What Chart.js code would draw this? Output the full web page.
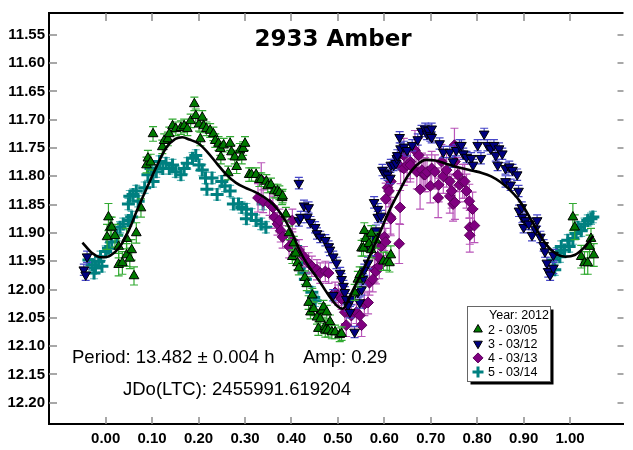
<!DOCTYPE html>
<html>
<head>
<meta charset="utf-8">
<title>2933 Amber</title>
<script src="https://cdn.jsdelivr.net/npm/chart.js@4"></script>
<style>
  html, body { margin: 0; padding: 0; background: #fff; }
</style>
</head>
<body>
<canvas id="lcChart" width="633" height="450"></canvas>
<script>
// axis ticks
var phaseTicks = [0.0, 0.1, 0.2, 0.3, 0.4, 0.5, 0.6, 0.7, 0.8, 0.9, 1.0];
var magTicks = [11.55, 11.60, 11.65, 11.70, 11.75, 11.80, 11.85, 11.90, 11.95, 12.00, 12.05, 12.10, 12.15, 12.20];

// session 2 - 03/05
var s2Phase = [0.003, 0.006, 0.010, 0.013, 0.020, 0.028, 0.028, 0.036, 0.045, 0.045,
  0.052, 0.056, 0.061, 0.066, 0.076, 0.088, 0.091, 0.097, 0.102, 0.122,
  0.126, 0.134, 0.137, 0.144, 0.151, 0.162, 0.169, 0.176, 0.183, 0.191,
  0.194, 0.201, 0.204, 0.208, 0.211, 0.217, 0.225, 0.232, 0.236, 0.243,
  0.247, 0.248, 0.254, 0.264, 0.268, 0.271, 0.278, 0.282, 0.289, 0.293,
  0.296, 0.300, 0.309, 0.314, 0.324, 0.331, 0.335, 0.346, 0.349, 0.356,
  0.363, 0.370, 0.374, 0.380, 0.381, 0.388, 0.395, 0.402, 0.405, 0.409,
  0.413, 0.416, 0.429, 0.433, 0.437, 0.441, 0.445, 0.448, 0.455, 0.458,
  0.462, 0.466, 0.469, 0.472, 0.473, 0.476, 0.479, 0.483, 0.487, 0.494,
  0.504, 0.508, 0.536, 0.543, 0.547, 0.551, 0.555, 0.557, 0.560, 0.567,
  0.572, 0.572, 0.582, 0.598, 0.606, 0.611, 0.614, 1.006, 1.010, 1.024,
  1.031, 1.038, 1.042, 1.045, 1.051];
var s2Mag = [11.907, 11.872, 11.890, 11.890, 11.905, 11.924, 11.956, 11.953, 11.910, 11.939,
  11.945, 11.930, 11.976, 11.900, 11.856, 11.780, 11.768, 11.775, 11.725, 11.748,
  11.737, 11.734, 11.725, 11.711, 11.716, 11.714, 11.711, 11.716, 11.702, 11.672,
  11.693, 11.708, 11.734, 11.696, 11.711, 11.716, 11.719, 11.725, 11.737, 11.742,
  11.751, 11.766, 11.745, 11.794, 11.742, 11.757, 11.766, 11.783, 11.754, 11.766,
  11.751, 11.742, 11.797, 11.797, 11.797, 11.806, 11.806, 11.809, 11.817, 11.815,
  11.826, 11.826, 11.829, 11.838, 11.835, 11.867, 11.900, 11.942, 11.918, 11.936,
  11.953, 11.962, 11.979, 11.990, 12.023, 12.040, 12.010, 12.034, 12.049, 12.069,
  12.052, 12.037, 12.031, 12.066, 12.072, 12.040, 12.072, 12.057, 12.075, 12.075,
  12.080, 12.078, 12.005, 11.982, 11.974, 11.927, 11.927, 11.896, 11.910, 11.919,
  11.930, 11.901, 11.913, 11.950, 11.950, 11.953, 11.939, 11.872, 11.890, 11.942,
  11.953, 11.953, 11.924, 11.910, 11.939];
var s2Err = [0.022, 0.024, 0.018, 0.018, 0.020, 0.020, 0.020, 0.020, 0.018, 0.020,
  0.018, 0.018, 0.016, 0.018, 0.016, 0.014, 0.014, 0.014, 0.013, 0.012,
  0.012, 0.012, 0.012, 0.012, 0.012, 0.012, 0.012, 0.012, 0.012, 0.012,
  0.012, 0.012, 0.012, 0.012, 0.012, 0.012, 0.012, 0.012, 0.012, 0.012,
  0.012, 0.012, 0.012, 0.012, 0.012, 0.012, 0.012, 0.012, 0.012, 0.012,
  0.012, 0.012, 0.012, 0.012, 0.012, 0.012, 0.012, 0.012, 0.012, 0.012,
  0.012, 0.012, 0.012, 0.012, 0.012, 0.012, 0.012, 0.012, 0.012, 0.012,
  0.012, 0.012, 0.012, 0.012, 0.012, 0.012, 0.012, 0.012, 0.012, 0.012,
  0.012, 0.012, 0.012, 0.012, 0.012, 0.012, 0.012, 0.012, 0.012, 0.012,
  0.012, 0.012, 0.014, 0.014, 0.014, 0.014, 0.014, 0.014, 0.014, 0.014,
  0.014, 0.014, 0.014, 0.016, 0.016, 0.016, 0.016, 0.024, 0.022, 0.020,
  0.020, 0.020, 0.020, 0.018, 0.020];

// session 3 - 03/12
var s3Phase = [-0.047, -0.043, -0.040, 0.416, 0.416, 0.420, 0.427, 0.434, 0.437, 0.441,
  0.451, 0.455, 0.462, 0.473, 0.480, 0.483, 0.490, 0.490, 0.497, 0.505,
  0.508, 0.512, 0.515, 0.518, 0.522, 0.526, 0.529, 0.536, 0.543, 0.547,
  0.551, 0.554, 0.557, 0.565, 0.572, 0.575, 0.578, 0.582, 0.586, 0.586,
  0.593, 0.596, 0.600, 0.607, 0.613, 0.614, 0.620, 0.625, 0.627, 0.628,
  0.633, 0.635, 0.642, 0.649, 0.660, 0.672, 0.680, 0.688, 0.692, 0.695,
  0.699, 0.702, 0.702, 0.719, 0.727, 0.741, 0.748, 0.755, 0.762, 0.766,
  0.770, 0.777, 0.787, 0.791, 0.801, 0.808, 0.815, 0.822, 0.829, 0.836,
  0.840, 0.844, 0.847, 0.854, 0.861, 0.861, 0.869, 0.872, 0.876, 0.886,
  0.889, 0.890, 0.896, 0.897, 0.900, 0.904, 0.911, 0.918, 0.925, 0.929,
  0.936, 0.943, 0.946, 0.950, 0.953, 0.957, 0.964, 0.964];
var s3Mag = [11.965, 11.974, 11.942, 11.812, 11.878, 11.872, 11.852, 11.872, 11.855, 11.881,
  11.890, 11.901, 11.907, 11.913, 11.924, 11.930, 11.942, 12.010, 11.953, 11.971,
  11.982, 11.994, 12.005, 12.017, 12.028, 12.040, 12.017, 12.075, 12.005, 12.023,
  12.000, 11.982, 11.965, 11.953, 11.930, 11.907, 11.846, 11.896, 11.872, 11.858,
  11.870, 11.789, 11.794, 11.797, 11.803, 11.780, 11.780, 11.777, 11.768, 11.763,
  11.731, 11.751, 11.748, 11.754, 11.745, 11.735, 11.720, 11.716, 11.725, 11.719,
  11.728, 11.716, 11.731, 11.742, 11.757, 11.757, 11.774, 11.754, 11.745, 11.745,
  11.760, 11.766, 11.768, 11.780, 11.745, 11.768, 11.725, 11.745, 11.751, 11.745,
  11.763, 11.780, 11.751, 11.760, 11.786, 11.809, 11.783, 11.815, 11.789, 11.797,
  11.826, 11.861, 11.855, 11.872, 11.890, 11.878, 11.884, 11.904, 11.893, 11.878,
  11.907, 11.922, 11.933, 11.953, 11.968, 11.974, 11.962, 11.939];
var s3Err = 0.010;

// session 4 - 03/13
var s4Phase = [0.328, 0.335, 0.339, 0.353, 0.360, 0.363, 0.370, 0.374, 0.377, 0.381,
  0.395, 0.402, 0.402, 0.416, 0.427, 0.437, 0.444, 0.455, 0.462, 0.473,
  0.480, 0.494, 0.501, 0.508, 0.515, 0.518, 0.529, 0.540, 0.547, 0.551,
  0.557, 0.565, 0.568, 0.575, 0.579, 0.582, 0.586, 0.589, 0.593, 0.600,
  0.603, 0.603, 0.607, 0.610, 0.613, 0.614, 0.614, 0.632, 0.634, 0.635,
  0.642, 0.642, 0.649, 0.656, 0.656, 0.666, 0.670, 0.674, 0.677, 0.681,
  0.685, 0.688, 0.692, 0.699, 0.702, 0.709, 0.716, 0.717, 0.723, 0.727,
  0.734, 0.741, 0.741, 0.745, 0.748, 0.751, 0.752, 0.752, 0.758, 0.762,
  0.769, 0.773, 0.777, 0.783, 0.784, 0.784, 0.790, 0.794];
var s4Mag = [11.838, 11.806, 11.844, 11.849, 11.855, 11.872, 11.884, 11.878, 11.896, 11.907,
  11.924, 11.913, 11.878, 11.930, 11.942, 11.953, 11.959, 11.965, 11.971, 11.968,
  11.971, 12.005, 12.010, 12.017, 12.040, 12.063, 12.046, 12.040, 12.046, 12.063,
  12.026, 12.023, 11.988, 11.982, 11.965, 11.968, 11.942, 11.959, 11.924, 11.907,
  11.916, 11.840, 11.820, 11.826, 11.872, 11.875, 11.809, 11.919, 11.855, 11.783,
  11.763, 11.786, 11.780, 11.774, 11.780, 11.754, 11.792, 11.763, 11.823, 11.789,
  11.797, 11.797, 11.792, 11.817, 11.786, 11.792, 11.838, 11.815, 11.774, 11.800,
  11.789, 11.809, 11.835, 11.826, 11.849, 11.745, 11.774, 11.846, 11.797, 11.815,
  11.809, 11.809, 11.826, 11.844, 11.890, 11.904, 11.858, 11.887];
var s4Err = [0.025, 0.030, 0.020, 0.020, 0.020, 0.020, 0.020, 0.020, 0.020, 0.020,
  0.020, 0.020, 0.020, 0.018, 0.018, 0.018, 0.018, 0.018, 0.018, 0.018,
  0.018, 0.018, 0.018, 0.018, 0.020, 0.020, 0.020, 0.020, 0.020, 0.020,
  0.020, 0.020, 0.022, 0.022, 0.022, 0.022, 0.022, 0.022, 0.022, 0.024,
  0.024, 0.028, 0.028, 0.028, 0.030, 0.030, 0.028, 0.035, 0.030, 0.030,
  0.030, 0.030, 0.030, 0.030, 0.030, 0.035, 0.030, 0.030, 0.035, 0.030,
  0.030, 0.030, 0.030, 0.030, 0.030, 0.030, 0.035, 0.030, 0.030, 0.030,
  0.030, 0.030, 0.030, 0.030, 0.030, 0.030, 0.030, 0.030, 0.030, 0.030,
  0.030, 0.030, 0.030, 0.030, 0.030, 0.030, 0.030, 0.030];

// session 5 - 03/14
var s5Phase = [-0.036, -0.029, -0.025, -0.022, -0.015, -0.011, -0.008, 0.000, 0.006, 0.013,
  0.024, 0.031, 0.038, 0.049, 0.049, 0.052, 0.056, 0.059, 0.066, 0.070,
  0.084, 0.091, 0.098, 0.102, 0.109, 0.116, 0.123, 0.130, 0.137, 0.144,
  0.151, 0.162, 0.169, 0.176, 0.187, 0.194, 0.201, 0.208, 0.215, 0.218,
  0.229, 0.240, 0.250, 0.257, 0.268, 0.275, 0.286, 0.293, 0.303, 0.303,
  0.314, 0.324, 0.335, 0.339, 0.345, 0.409, 0.423, 0.427, 0.430, 0.444,
  0.448, 0.451, 0.964, 0.967, 0.971, 0.978, 0.981, 0.988, 0.995, 0.998,
  1.006, 1.013, 1.017, 1.024, 1.031, 1.038, 1.045, 1.049];
var s5Mag = [11.948, 11.956, 11.971, 11.962, 11.950, 11.942, 11.959, 11.933, 11.927, 11.916,
  11.904, 11.890, 11.884, 11.878, 11.849, 11.835, 11.872, 11.832, 11.826, 11.844,
  11.820, 11.797, 11.786, 11.809, 11.792, 11.774, 11.786, 11.777, 11.786, 11.780,
  11.792, 11.797, 11.786, 11.777, 11.768, 11.763, 11.780, 11.789, 11.803, 11.823,
  11.803, 11.832, 11.809, 11.817, 11.826, 11.849, 11.849, 11.855, 11.858, 11.875,
  11.867, 11.878, 11.884, 11.849, 11.890, 11.924, 11.953, 11.971, 11.982, 12.005,
  12.014, 12.020, 11.948, 11.965, 11.936, 11.942, 11.924, 11.930, 11.913, 11.924,
  11.910, 11.901, 11.890, 11.896, 11.884, 11.878, 11.875, 11.872];
var s5Err = 0.010;

// Fourier fit
var fitPhase = [-0.05, -0.03, -0.01, 0.01, 0.03, 0.05, 0.07, 0.09, 0.11, 0.13,
  0.15, 0.165, 0.18, 0.20, 0.22, 0.24, 0.26, 0.28, 0.30, 0.32,
  0.34, 0.36, 0.38, 0.40, 0.42, 0.44, 0.46, 0.48, 0.50, 0.51,
  0.53, 0.55, 0.57, 0.59, 0.61, 0.63, 0.65, 0.67, 0.69, 0.71,
  0.73, 0.75, 0.77, 0.79, 0.81, 0.83, 0.85, 0.87, 0.89, 0.91,
  0.93, 0.95, 0.97, 0.99, 1.01, 1.03, 1.05];
var fitMag = [11.917, 11.935, 11.943, 11.940, 11.925, 11.895, 11.855, 11.818, 11.782, 11.750,
  11.734, 11.731, 11.735, 11.742, 11.758, 11.778, 11.797, 11.811, 11.820, 11.827,
  11.836, 11.849, 11.869, 11.898, 11.935, 11.962, 11.985, 12.010, 12.030, 12.034,
  12.005, 11.972, 11.938, 11.900, 11.862, 11.830, 11.800, 11.780, 11.771, 11.772,
  11.777, 11.782, 11.786, 11.790, 11.794, 11.800, 11.810, 11.824, 11.842, 11.868,
  11.897, 11.922, 11.937, 11.942, 11.939, 11.926, 11.905];

var titleText = '2933 Amber';
var periodText = 'Period: 13.482 \u00b1 0.004 h';
var ampText = 'Amp: 0.29';
var epochText = 'JDo(LTC): 2455991.619204';
var legendTitle = 'Year: 2012';

function toPoints(xs, ys) {
    var pts = [];
    for (var i = 0; i < xs.length; i++) {
        pts.push({ x: xs[i], y: ys[i] });
    }
    return pts;
}

// vertical error bars, drawn under each dataset's markers
var errorBars = {
    id: 'errorBars',
    beforeDatasetDraw: function (chart, args) {
        var ds = chart.data.datasets[args.index];
        if (ds.errors === undefined) return;
        var ctx = chart.ctx, yScale = chart.scales.y;
        ctx.save();
        ctx.strokeStyle = ds.errorColor;
        ctx.lineWidth = 1.2;
        args.meta.data.forEach(function (pt, i) {
            var e = Array.isArray(ds.errors) ? ds.errors[i] : ds.errors;
            var m = ds.data[i].y;
            var top = yScale.getPixelForValue(m - e);
            var bot = yScale.getPixelForValue(m + e);
            ctx.beginPath();
            ctx.moveTo(pt.x, top); ctx.lineTo(pt.x, bot);
            ctx.moveTo(pt.x - 4, top); ctx.lineTo(pt.x + 4, top);
            ctx.moveTo(pt.x - 4, bot); ctx.lineTo(pt.x + 4, bot);
            ctx.stroke();
        });
        ctx.restore();
    }
};

// top border and inward tick marks on all four sides
var frame = {
    id: 'frame',
    beforeDatasetsDraw: function (chart) {
        var ctx = chart.ctx, a = chart.chartArea;
        var xs = chart.scales.x, ys = chart.scales.y;
        ctx.save();
        ctx.strokeStyle = '#000';
        ctx.lineWidth = 2;
        ctx.beginPath();
        ctx.moveTo(a.left - 1, a.top);
        ctx.lineTo(a.right, a.top);
        ctx.stroke();
        ctx.strokeStyle = '#8c8c8c';
        ctx.lineWidth = 1.5;
        phaseTicks.forEach(function (v) {
            var px = Math.round(xs.getPixelForValue(v));
            ctx.beginPath();
            ctx.moveTo(px, a.bottom); ctx.lineTo(px, a.bottom - 7);
            ctx.moveTo(px, a.top); ctx.lineTo(px, a.top + 8);
            ctx.stroke();
        });
        magTicks.forEach(function (v) {
            var py = Math.round(ys.getPixelForValue(v));
            ctx.beginPath();
            ctx.moveTo(a.left, py); ctx.lineTo(a.left + 8, py);
            ctx.moveTo(a.right, py); ctx.lineTo(a.right - 6, py);
            ctx.stroke();
        });
        ctx.restore();
    }
};

function drawMarker(ctx, ds, x, y, r) {
    ctx.save();
    ctx.fillStyle = ds.pointBackgroundColor;
    ctx.strokeStyle = ds.pointBorderColor;
    ctx.lineWidth = ds.pointBorderWidth;
    Chart.helpers.drawPoint(ctx, {
        pointStyle: ds.pointStyle,
        rotation: ds.pointRotation || 0,
        radius: r,
        borderWidth: ds.pointBorderWidth
    }, x, y);
    ctx.restore();
}

// title, fit results and the session key
var notes = {
    id: 'notes',
    afterDraw: function (chart) {
        var ctx = chart.ctx;
        ctx.save();
        ctx.fillStyle = '#000';
        ctx.textBaseline = 'alphabetic';
        ctx.textAlign = 'center';
        ctx.font = 'bold 23px "DejaVu Sans", sans-serif';
        ctx.fillText(titleText, 333, 46);

        ctx.textAlign = 'left';
        ctx.font = '18.5px "Liberation Sans", Arial, sans-serif';
        ctx.fillText(periodText, 72, 363);
        ctx.fillText(ampText, 303, 363);
        ctx.fillText(epochText, 123, 395);

        // key box with drop shadow
        var bx = 467.5, by = 306.5, bw = 83, bh = 75;
        ctx.fillStyle = '#000';
        ctx.fillRect(bx + 3, by + 3, bw, bh);
        ctx.fillStyle = '#fff';
        ctx.fillRect(bx, by, bw, bh);
        ctx.strokeStyle = '#666';
        ctx.lineWidth = 1;
        ctx.strokeRect(bx, by, bw, bh);

        ctx.fillStyle = '#000';
        ctx.font = '12.5px "Liberation Sans", Arial, sans-serif';
        ctx.textAlign = 'right';
        ctx.fillText(legendTitle, 549, 319);
        ctx.textAlign = 'left';
        var order = [1, 2, 3, 4];
        order.forEach(function (di, k) {
            var ds = chart.data.datasets[di];
            var ly = 333.5 + k * 14.2;
            drawMarker(ctx, ds, 478, ly - 4, di === 4 ? 5.5 : 5);
            ctx.fillStyle = '#000';
            ctx.fillText(ds.label, 488, ly);
        });
        ctx.restore();
    }
};

var ctx = document.getElementById('lcChart');
var lcChart = new Chart(ctx, {
    type: 'scatter',
    data: {
        datasets: [
            {
                type: 'line',
                label: 'fit',
                data: toPoints(fitPhase, fitMag),
                borderColor: '#000',
                borderWidth: 2.6,
                pointRadius: 0,
                fill: false,
                cubicInterpolationMode: 'monotone'
            },
            {
                label: '2 - 03/05',
                data: toPoints(s2Phase, s2Mag),
                errors: s2Err,
                errorColor: 'rgb(50, 170, 50)',
                pointStyle: 'triangle',
                pointRadius: 5.6,
                pointBackgroundColor: '#007a00',
                pointBorderColor: '#000',
                pointBorderWidth: 1
            },
            {
                label: '3 - 03/12',
                data: toPoints(s3Phase, s3Mag),
                errors: s3Err,
                errorColor: 'rgb(70, 70, 200)',
                pointStyle: 'triangle',
                pointRotation: 180,
                pointRadius: 5.6,
                pointBackgroundColor: '#000080',
                pointBorderColor: '#000',
                pointBorderWidth: 1
            },
            {
                label: '4 - 03/13',
                data: toPoints(s4Phase, s4Mag),
                errors: s4Err,
                errorColor: 'rgb(185, 85, 185)',
                pointStyle: 'rectRot',
                pointRadius: 5.4,
                pointBackgroundColor: '#800080',
                pointBorderColor: '#5a005a',
                pointBorderWidth: 1
            },
            {
                label: '5 - 03/14',
                data: toPoints(s5Phase, s5Mag),
                errors: s5Err,
                errorColor: 'rgb(100, 185, 185)',
                pointStyle: 'cross',
                pointRadius: 6.5,
                pointBackgroundColor: '#008080',
                pointBorderColor: '#008080',
                pointBorderWidth: 3
            }
        ]
    },
    options: {
        responsive: false,
        devicePixelRatio: 1,
        animation: false,
        events: [],
        layout: { padding: { top: 5, right: 0, left: 0, bottom: 0 } },
        plugins: {
            legend: { display: false },
            title: { display: false },
            tooltip: { enabled: false }
        },
        scales: {
            x: {
                type: 'linear',
                min: -0.122,
                max: 1.115,
                afterFit: function (scale) { scale.height = 26; },
                afterBuildTicks: function (scale) {
                    scale.ticks = phaseTicks.map(function (v) { return { value: v }; });
                },
                grid: { display: true, drawOnChartArea: false, drawTicks: false },
                border: { color: '#000', width: 2 },
                ticks: {
                    padding: 6,
                    color: '#000',
                    font: { family: '"Liberation Sans", Arial, sans-serif', size: 15, weight: 'bold' },
                    callback: function (v) { return Number(v).toFixed(2); }
                }
            },
            y: {
                type: 'linear',
                reverse: true,
                min: 11.5114,
                max: 12.2376,
                afterFit: function (scale) { scale.width = 49; },
                afterBuildTicks: function (scale) {
                    scale.ticks = magTicks.map(function (v) { return { value: v }; });
                },
                grid: { display: true, drawOnChartArea: false, drawTicks: false },
                border: { color: '#000', width: 2 },
                ticks: {
                    padding: 4,
                    color: '#000',
                    font: { family: '"Liberation Sans", Arial, sans-serif', size: 15, weight: 'bold' },
                    callback: function (v) { return Number(v).toFixed(2); }
                }
            }
        }
    },
    plugins: [frame, errorBars, notes]
});
</script>
</body>
</html>
